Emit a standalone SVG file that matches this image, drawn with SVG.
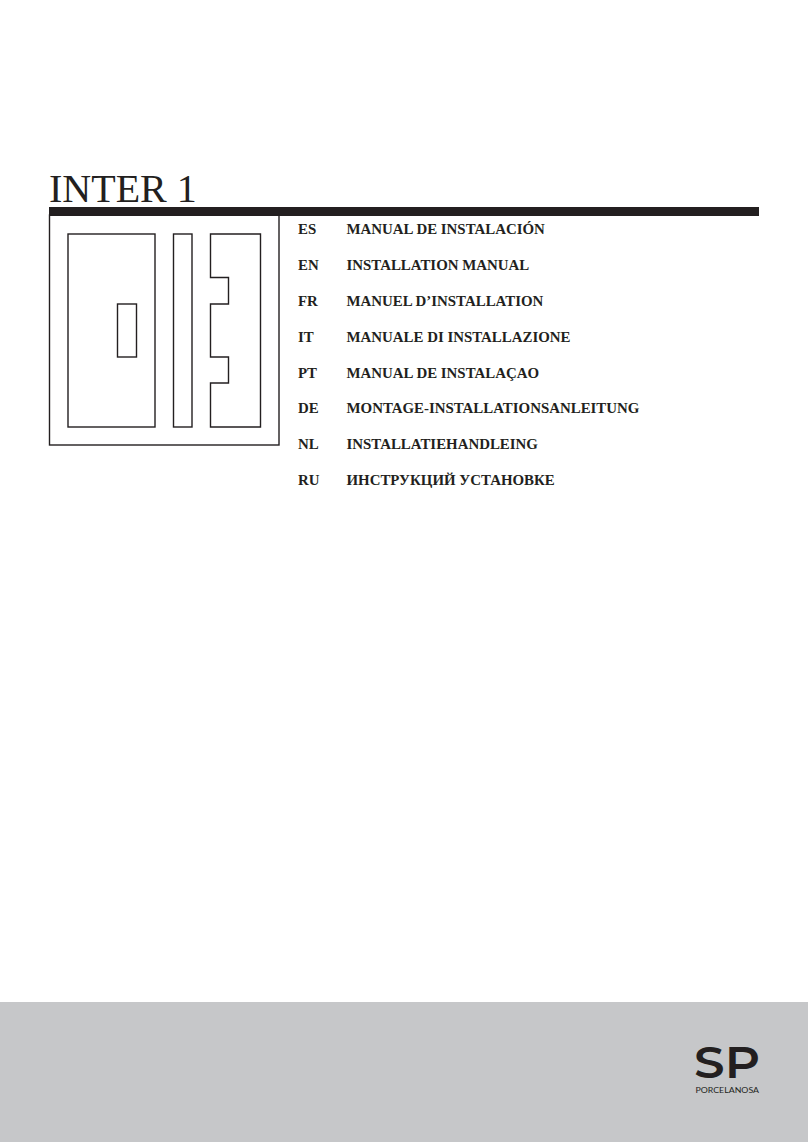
<svg xmlns="http://www.w3.org/2000/svg" width="808" height="1142" viewBox="0 0 808 1142">
<style>
.ln{fill:none;stroke:#231f20;stroke-width:1.4}
.t{font-family:"Liberation Serif","Times New Roman",serif;font-size:14.9px;font-weight:bold;fill:#231f20}
</style>
<rect width="808" height="1142" fill="#fff"/>
<rect id="footer" x="0" y="1002" width="808" height="140" fill="#c6c7c9"/>
<text id="title" x="49" y="202" font-family="'Liberation Serif',serif" font-size="40" fill="#231f20">INTER 1</text>
<rect id="bar" x="49" y="207" width="710" height="9" fill="#231f20"/>
<g id="icon">
<rect class="ln" x="49.5" y="215" width="229.5" height="230"/>
<rect class="ln" x="68" y="234" width="87" height="193"/>
<rect class="ln" x="117.5" y="304" width="19" height="53"/>
<rect class="ln" x="173.5" y="234" width="18.5" height="193"/>
<path class="ln" d="M210.500 234H260.500V427H210.500V383H228.500V357H210.500V304H228.500V277.500H210.500Z"/>
</g>
<g id="labels">
<text class="t" x="298" y="234">ES</text><text class="t" x="346.500" y="234">MANUAL DE INSTALACIÓN</text>
<text class="t" x="298" y="270">EN</text><text class="t" x="346.500" y="270">INSTALLATION MANUAL</text>
<text class="t" x="298" y="306">FR</text><text class="t" x="346.500" y="306">MANUEL D’INSTALLATION</text>
<text class="t" x="298" y="342">IT</text><text class="t" x="346.500" y="342">MANUALE DI INSTALLAZIONE</text>
<text class="t" x="298" y="378">PT</text><text class="t" x="346.500" y="378">MANUAL DE INSTALAÇAO</text>
<text class="t" x="298" y="413">DE</text><text class="t" x="346.500" y="413">MONTAGE-INSTALLATIONSANLEITUNG</text>
<text class="t" x="298" y="449">NL</text><text class="t" x="346.500" y="449">INSTALLATIEHANDLEING</text>
<text class="t" x="298" y="485">RU</text><text class="t" x="346.500" y="485">ИНСТРУКЦИЙ УСТАНОВКЕ</text>
</g>
<g id="logo">
<text x="694" y="1078" font-family="Montserrat,'Open Sans','Liberation Sans',sans-serif" font-size="44" font-weight="600" textLength="66" lengthAdjust="spacingAndGlyphs" fill="#231f20">SP</text>
<text x="695.500" y="1093" font-family="Lato,'Open Sans','Liberation Sans',sans-serif" font-size="8.400" textLength="63.500" lengthAdjust="spacingAndGlyphs" fill="#231f20">PORCELANOSA</text>
</g>
</svg>
